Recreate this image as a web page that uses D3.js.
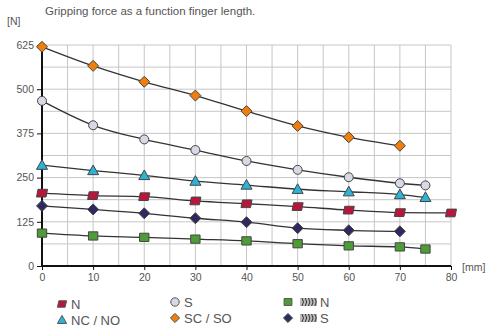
<!DOCTYPE html>
<html><head><meta charset="utf-8">
<script src="https://cdn.jsdelivr.net/npm/d3@7"></script>
<style>body{margin:0;background:#fff}svg{display:block;font-family:"Liberation Sans",Arial,sans-serif}</style>
</head><body><svg id="c" width="488" height="334"></svg>
<script>
const title = "Gripping force as a function finger length.";
const yTicks = [0,125,250,375,500,625];
const xTicks = [0,10,20,30,40,50,60,70,80];
const xN = [0,10,20,30,40,50,60,70,80];
const yN = [206,199,196,184,176,168,158,151,150];
const xNC = [0,10,20,30,40,50,60,70,75];
const yNC = [285,270,256,240,229,217,210,202,194];
const xS = [0,10,20,30,40,50,60,70,75];
const yS = [467,398,358,328,297,272,251,234,228];
const xSC = [0,10,20,30,40,50,60,70];
const ySC = [620,566,521,482,438,396,364,340];
const xHN = [0,10,20,30,40,50,60,70,75];
const yHN = [93,85,81,76,71,63,57,54,48];
const xHS = [0,10,20,30,40,50,60,70];
const yHS = [170,160,149,135,124,107,101,98];

const series = [
  {name:"N", xs:xN, ys:yN, shape:"para", fill:"#b8173b"},
  {name:"NC / NO", xs:xNC, ys:yNC, shape:"tri", fill:"#2cb3d8"},
  {name:"S", xs:xS, ys:yS, shape:"circle", fill:"#d9d9e6"},
  {name:"SC / SO", xs:xSC, ys:ySC, shape:"diamond", fill:"#f07e0c"},
  {name:"N", xs:xHN, ys:yHN, shape:"square", fill:"#4d9c38", hatch:true},
  {name:"S", xs:xHS, ys:yHS, shape:"diamond", fill:"#2e2a60", hatch:true}
];

const svg = d3.select("#c");
const x = d3.scaleLinear().domain([0,80]).range([42,451]);
const y = d3.scaleLinear().domain([0,625]).range([266,45]);
const txt = "#555";

svg.append("text").attr("x",45).attr("y",15).attr("fill",txt).attr("font-size",11.5).text(title);
svg.append("text").attr("x",7).attr("y",25).attr("fill",txt).attr("font-size",10.5).text("[N]");
svg.append("text").attr("x",462).attr("y",271).attr("fill",txt).attr("font-size",10.5).text("[mm]");

// grid
const g = svg.append("g");
d3.range(5,81,5).forEach(v=>g.append("line").attr("x1",x(v)).attr("x2",x(v)).attr("y1",y(0)).attr("y2",y(625)).attr("stroke","#c6c6c6").attr("stroke-width",1));
d3.range(62.5,626,62.5).forEach(v=>g.append("line").attr("x1",x(0)).attr("x2",x(80)).attr("y1",y(v)).attr("y2",y(v)).attr("stroke","#c6c6c6").attr("stroke-width",1));

// axes
const ya = d3.axisLeft(y).tickValues(yTicks).tickSize(5).tickPadding(3);
const yg = svg.append("g").attr("transform",`translate(${x(0)},0)`).call(ya);
const xa = d3.axisBottom(x).tickValues(xTicks).tickSize(4).tickPadding(4);
const xg = svg.append("g").attr("transform",`translate(0,${y(0)})`).call(xa);
[yg,xg].forEach(a=>{
  a.select(".domain").remove();
  a.selectAll("line").attr("stroke","#111").attr("stroke-width",1);
  a.selectAll("text").attr("fill",txt).attr("font-size",10.5).attr("font-family","Liberation Sans, Arial, sans-serif");
});
svg.append("line").attr("x1",x(0)).attr("x2",x(80)).attr("y1",y(0)).attr("y2",y(0)).attr("stroke","#111").attr("stroke-width",2);
svg.append("line").attr("x1",x(0)).attr("x2",x(0)).attr("y1",y(0)).attr("y2",y(625)).attr("stroke","#111").attr("stroke-width",2);

function shapePath(shape, s){
  switch(shape){
    case "para": return `M${-s+1.5},${-s*0.7}L${s},${-s*0.7}L${s-1.5},${s*0.7}L${-s},${s*0.7}Z`;
    case "tri": return `M0,${-s}L${s},${s*0.75}L${-s},${s*0.75}Z`;
    case "diamond": return `M0,${-s}L${s},0L0,${s}L${-s},0Z`;
    case "square": return `M${-s*0.85},${-s*0.75}L${s*0.85},${-s*0.75}L${s*0.85},${s*0.75}L${-s*0.85},${s*0.75}Z`;
  }
}
function drawMarker(sel, d, cx, cy){
  if(d.shape==="circle"){
    sel.append("circle").attr("cx",cx).attr("cy",cy).attr("r",4.5).attr("fill",d.fill).attr("stroke","#444").attr("stroke-width",1);
  } else {
    sel.append("path").attr("d",shapePath(d.shape,5.5)).attr("transform",`translate(${cx},${cy})`).attr("fill",d.fill).attr("stroke","#444").attr("stroke-width",1);
  }
}

const line = d3.line().curve(d3.curveMonotoneX).x(p=>x(p[0])).y(p=>y(p[1]));
series.forEach(s=>{
  const pts = s.xs.map((v,i)=>[v,s.ys[i]]);
  svg.append("path").attr("d",line(pts)).attr("fill","none").attr("stroke","#333").attr("stroke-width",1.3);
});
series.forEach(s=>{
  const gg = svg.append("g");
  s.xs.forEach((v,i)=>drawMarker(gg,s,x(v),y(s.ys[i])));
});

// legend
const legPos = [[62,304],[62,320],[175,302],[175,318],[288,302],[288,318]];
series.forEach((s,i)=>{
  const [lx,ly] = legPos[i];
  const lg = svg.append("g");
  if(s.shape==="circle") lg.append("circle").attr("cx",lx).attr("cy",ly).attr("r",4.2).attr("fill",s.fill).attr("stroke","#555");
  else lg.append("path").attr("d",shapePath(s.shape,4.6)).attr("transform",`translate(${lx},${ly})`).attr("fill",s.fill).attr("stroke","#555");
  let tx = lx+9;
  if(s.hatch){
    const hx = lx+12;
    lg.append("rect").attr("x",hx).attr("y",ly-4).attr("width",17).attr("height",8).attr("fill","#bbb");
    for(let k=0;k<5;k++){
      lg.append("path").attr("d",`M${hx+2+k*3.2},${ly-4}L${hx+3.5+k*3.2},${ly}L${hx+2+k*3.2},${ly+4}`).attr("stroke","#333").attr("stroke-width",1).attr("fill","none");
    }
    tx = hx+20;
  }
  lg.append("text").attr("x",tx).attr("y",ly+5).attr("fill",txt).attr("font-size",13).text(s.name);
});
</script></body></html>
